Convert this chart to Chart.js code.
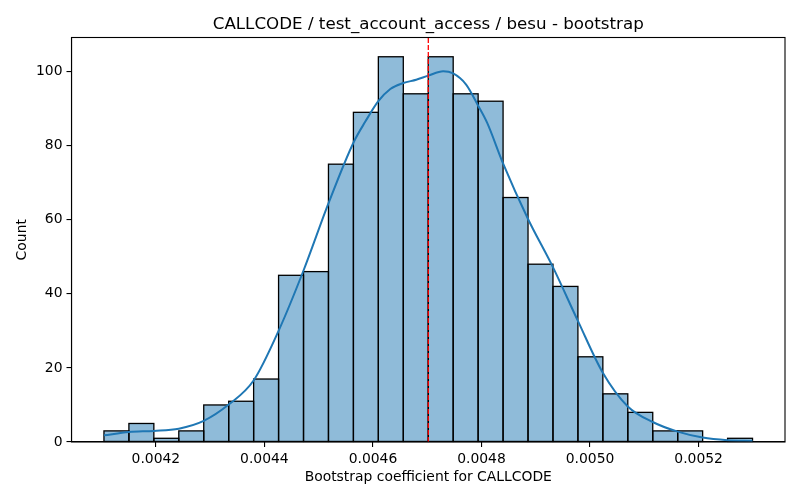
<!DOCTYPE html>
<html>
<head>
<meta charset="utf-8">
<script src="https://cdn.jsdelivr.net/npm/chart.js@4/dist/chart.umd.min.js"></script>
<style>
  html, body { margin: 0; padding: 0; background: #fff; }
  #wrap { width: 800px; height: 500px; }
</style>
</head>
<body>
<div id="wrap"><canvas id="chart" width="800" height="500"></canvas></div>
<script>
const titleText = "CALLCODE / test_account_access / besu - bootstrap";
const xLabel = "Bootstrap coefficient for CALLCODE";
const yLabel = "Count";

// histogram bins
const binStart = 0.0041044;
const binWidth = 0.00004596;
const counts = [3, 5, 1, 3, 10, 11, 17, 45, 46, 75, 89, 104, 94, 104, 94, 92, 66, 48, 42, 23, 13, 8, 3, 3, 0, 1];

// kde curve (scaled to counts)
const kdeX = [0.0041044, 0.0041504, 0.0041963, 0.0042423, 0.0042882, 0.0043342, 0.0043801, 0.0044261, 0.0044721,
  0.0045180, 0.0045640, 0.0045860, 0.0046099, 0.0046320, 0.0046559, 0.0046798, 0.0047018, 0.0047294, 0.0047478,
  0.0047717, 0.0047938, 0.0048103, 0.0048397, 0.0048857, 0.0049316, 0.0049776, 0.0050235, 0.0050695, 0.0051154,
  0.0051614, 0.0052074, 0.0052533, 0.0052993];
const kdeY = [1.8, 2.7, 3.0, 3.6, 5.7, 10.1, 16.6, 30, 46.3,
  64.4, 80.8, 86.5, 92.0, 95.3, 96.9, 97.8, 98.9, 100.1, 99.5,
  96.5, 90.8, 86.2, 75.2, 60.2, 47.2, 32.7, 18.7, 9.6, 5.4,
  2.8, 1.2, 0.5, 0.3];

const meanValue = 0.004702;

const xTicks = [0.0042, 0.0044, 0.0046, 0.0048, 0.0050, 0.0052];
const yTicks = [0, 20, 40, 60, 80, 100];
const xMin = 0.0040446, xMax = 0.0053592;
const yMax = 109.2;

Chart.defaults.font.family = "'DejaVu Sans', sans-serif";
Chart.defaults.color = "#000";

const bars = counts.map((c, i) => ({ x: binStart + binWidth * (i + 0.5), y: c }));
const kde = kdeX.map((x, i) => ({ x, y: kdeY[i] }));

// outline the histogram bars (matplotlib style, edges centred on bin boundaries)
const barEdges = {
  id: "barEdges",
  afterDatasetDraw(chart, args) {
    if (args.index !== 2) return;
    const { ctx } = chart;
    ctx.save();
    ctx.strokeStyle = "#000";
    ctx.lineWidth = 1.3;
    args.meta.data.forEach((bar) => {
      const { x, y, base, width } = bar.getProps(["x", "y", "base", "width"], true);
      if (base - y < 0.5) return;
      ctx.strokeRect(x - width / 2, y, width, base - y);
    });
    ctx.restore();
  },
};

const frameAndTitle = {
  id: "frameAndTitle",
  afterDraw(chart) {
    const { ctx, chartArea: a } = chart;
    ctx.save();
    ctx.strokeStyle = "#000";
    ctx.lineWidth = 1.1;
    ctx.strokeRect(a.left, a.top, a.right - a.left, a.bottom - a.top);
    ctx.fillStyle = "#000";
    ctx.font = "16.7px 'DejaVu Sans'";
    ctx.textAlign = "center";
    ctx.textBaseline = "alphabetic";
    ctx.fillText(titleText, (a.left + a.right) / 2, a.top - 8.3);
    ctx.restore();
  },
};

new Chart(document.getElementById("chart"), {
  type: "bar",
  data: {
    datasets: [
      {
        type: "line",
        data: [{ x: meanValue, y: 0 }, { x: meanValue, y: yMax }],
        borderColor: "#ff0000",
        borderWidth: 1.3,
        borderDash: [5, 2],
        pointRadius: 0,
        order: 1,
      },
      {
        type: "line",
        data: kde,
        borderColor: "#1f77b4",
        borderWidth: 2,
        pointRadius: 0,
        cubicInterpolationMode: "monotone",
        order: 2,
      },
      {
        type: "bar",
        data: bars,
        backgroundColor: "rgba(31,119,180,0.5)",
        borderWidth: 0,
        inflateAmount: 0,
        barPercentage: 1,
        categoryPercentage: 1,
        order: 3,
      },
    ],
  },
  options: {
    responsive: false,
    animation: false,
    layout: { padding: { left: 0, right: 15, top: 37.5, bottom: 0 } },
    plugins: { legend: { display: false }, tooltip: { enabled: false }, title: { display: false } },
    scales: {
      x: {
        type: "linear",
        offset: false,
        min: xMin,
        max: xMax,
        afterBuildTicks: (s) => { s.ticks = xTicks.map((v) => ({ value: v })); },
        afterFit: (s) => { s.height = 58; },
        ticks: { font: { size: 13.9 }, padding: 4, maxRotation: 0, callback: (v) => v.toFixed(4) },
        grid: { offset: false, drawOnChartArea: false, tickLength: 5, color: "#000", lineWidth: 1.1 },
        border: { color: "#000", width: 1.1 },
        title: { display: true, text: xLabel, font: { size: 13.9 }, padding: { top: 0, bottom: 14 } },
      },
      y: {
        min: 0,
        max: yMax,
        afterBuildTicks: (s) => { s.ticks = yTicks.map((v) => ({ value: v })); },
        afterFit: (s) => { s.width = 71.5; },
        ticks: { font: { size: 13.9 }, padding: 4 },
        grid: { drawOnChartArea: false, tickLength: 5, color: "#000", lineWidth: 1.1 },
        border: { color: "#000", width: 1.1 },
        title: { display: true, text: yLabel, font: { size: 13.9 }, padding: { top: 14, bottom: 0 } },
      },
    },
  },
  plugins: [barEdges, frameAndTitle],
});
</script>
</body>
</html>
